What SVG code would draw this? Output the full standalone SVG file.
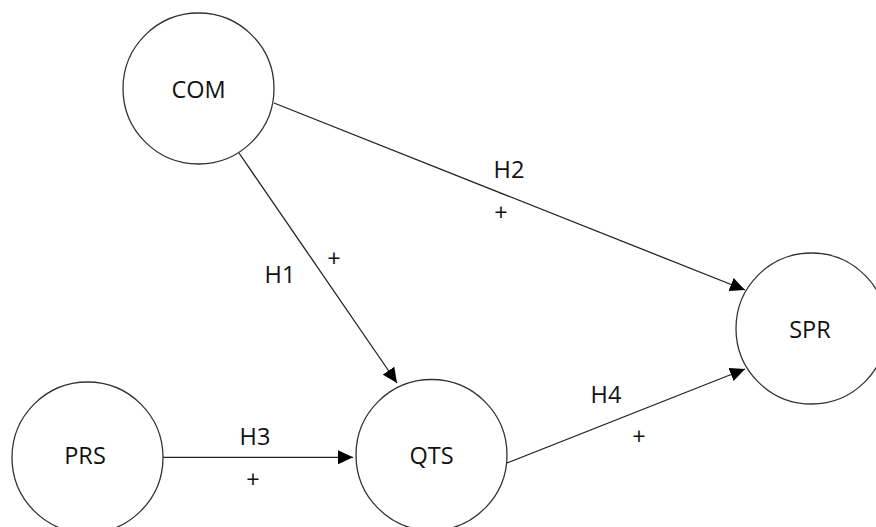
<svg xmlns="http://www.w3.org/2000/svg" width="876" height="527" viewBox="0 0 876 527">
<defs>
<style>
.node{fill:#fff;stroke:#333;stroke-width:1.3}
.lbl{font-family:"Open Sans","Liberation Sans",sans-serif;font-size:23.5px;fill:#111;text-anchor:middle}
.edge{stroke:#222;stroke-width:1.3;fill:none;marker-end:url(#ah)}
</style>
<marker id="ah" markerUnits="userSpaceOnUse" markerWidth="16" markerHeight="14" refX="15" refY="7" orient="auto">
<path d="M0,0 L15,7 L0,14 z" fill="#000"/>
</marker>
</defs>
<rect width="876" height="527" fill="#fff"/>
<g id="connectors">
<line class="edge" x1="274" y1="103" x2="745" y2="290"/>
<line class="edge" x1="239" y1="153" x2="397" y2="383"/>
<line class="edge" x1="163" y1="457.3" x2="353" y2="457.3"/>
<line class="edge" x1="507" y1="463" x2="745" y2="369"/>
<text class="lbl" x="509" y="178">H2</text>
<text class="lbl" x="501" y="221">+</text>
<text class="lbl" x="280" y="283">H1</text>
<text class="lbl" x="334" y="267">+</text>
<text class="lbl" x="255" y="445">H3</text>
<text class="lbl" x="253" y="488">+</text>
<text class="lbl" x="606" y="403">H4</text>
<text class="lbl" x="639" y="445">+</text>
</g>
<g id="COM"><circle class="node" cx="198.5" cy="88.5" r="75.5"/><text class="lbl" x="198.5" y="98">COM</text></g>
<g id="PRS"><circle class="node" cx="87.5" cy="457.5" r="75.5"/><text class="lbl" x="85" y="464">PRS</text></g>
<g id="QTS"><circle class="node" cx="431.5" cy="455" r="75.5"/><text class="lbl" x="431.5" y="464">QTS</text></g>
<g id="SPR"><circle class="node" cx="811.5" cy="328.5" r="75.5"/><text class="lbl" x="810" y="338">SPR</text></g>
</svg>
